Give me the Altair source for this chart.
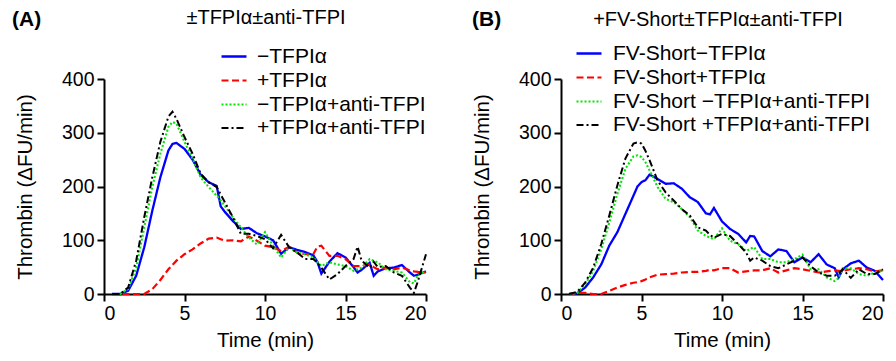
import altair as alt
import pandas as pd

FONT = "Liberation Sans"

# ---------------- Panel A data ----------------
A_TIME = [0.5, 1, 1.5, 2, 2.5, 3, 3.5, 4, 4.25, 4.5, 5, 5.5, 6, 6.5, 7, 7.25, 7.5, 8, 8.5, 9,
          9.5, 10, 10.5, 11, 11.5, 12, 12.5, 13, 13.25, 13.5, 14, 14.5, 15, 15.5, 15.75, 16,
          16.5, 16.75, 17, 17.5, 18, 18.5, 19, 19.25, 19.5, 20]
A_NO_TFPI = [0, 0, 6, 34, 87, 155, 217, 267, 279, 281, 270, 250, 222, 208, 201, 163, 153, 136,
             121, 123, 113, 107, 100, 75, 87, 82, 78, 72, 60, 38, 60, 76, 68, 50, 40, 45, 58, 34,
             42, 48, 49, 54, 40, 34, 36, 42]
A_TFPI = [0, 0, 0, 0, 0, 9, 26, 46, 54, 62, 74, 83, 94, 103, 105, 102, 99, 100, 98, 107, 99, 90,
          87, 80, 88, 77, 74, 74, 88, 90, 71, 71, 65, 52, 52, 52, 55, 50, 46, 49, 46, 49, 44, 42,
          41, 40]
A_NO_TFPI_ANTI = [0, 0, 9, 49, 124, 199, 261, 311, 320, 317, 283, 252, 217, 199, 183, 174, 164,
                  143, 124, 105, 92, 115, 90, 68, 87, 77, 74, 68, 60, 52, 59, 55, 52, 43, 46, 49,
                  65, 62, 59, 46, 43, 40, 22, 20, 35, 42]
A_TFPI_ANTI = [0, 0, 12, 62, 143, 217, 283, 330, 339, 326, 292, 261, 224, 208, 199, 185, 171, 143,
               112, 112, 108, 102, 85, 110, 87, 77, 65, 65, 58, 49, 27, 37, 52, 65, 88, 62, 49, 60,
               50, 52, 40, 34, 12, 2, 24, 74]
A_NAMES = ["\u2212TFPI\u03b1", "+TFPI\u03b1", "\u2212TFPI\u03b1+anti-TFPI", "+TFPI\u03b1+anti-TFPI"]
A_TITLE = "\u00b1TFPI\u03b1\u00b1anti-TFPI"
A_TAG = "(A)"

# ---------------- Panel B data ----------------
B_TIME = [0.5, 1, 1.5, 2, 2.5, 3, 3.5, 4, 4.5, 4.75, 5, 5.25, 5.5, 6, 6.5, 7, 7.5, 8, 8.5, 9,
          9.25, 9.5, 10, 10.5, 11, 11.5, 11.75, 12, 12.5, 13, 13.5, 14, 14.5, 15, 15.5, 16, 16.5,
          17, 17.25, 17.5, 18, 18.5, 19, 19.5, 20]
B_NO_TFPI = [0, 1, 12, 31, 55, 90, 115, 149, 183, 200, 208, 212, 222, 214, 205, 206, 196, 180,
             171, 150, 148, 160, 135, 121, 112, 96, 108, 107, 80, 70, 83, 80, 59, 68, 59, 74, 55,
             48, 31, 46, 57, 62, 49, 43, 26]
B_TFPI = [0, 2, 2, 0, 0, 6, 12, 17, 21, 22, 24, 27, 31, 36, 37, 38, 40, 41, 41, 43, 45, 44, 48,
          48, 40, 42, 43, 44, 44, 48, 40, 44, 48, 46, 43, 40, 42, 44, 43, 43, 46, 48, 46, 42, 44]
B_NO_TFPI_ANTI = [0, 2, 18, 43, 83, 133, 186, 233, 256, 258, 255, 245, 230, 199, 177, 171, 158,
                  143, 118, 108, 105, 102, 122, 99, 93, 80, 84, 87, 65, 65, 59, 59, 65, 73, 46, 46,
                  31, 24, 30, 48, 48, 37, 34, 40, 43]
B_TFPI_ANTI = [0, 4, 21, 49, 93, 146, 202, 252, 280, 282, 280, 266, 249, 211, 189, 174, 158, 146,
               124, 118, 110, 105, 112, 108, 93, 77, 62, 68, 62, 52, 48, 55, 62, 68, 52, 40, 34,
               34, 38, 46, 30, 46, 37, 37, 46]
B_NAMES = ["FV-Short\u2212TFPI\u03b1", "FV-Short+TFPI\u03b1", "FV-Short \u2212TFPI\u03b1+anti-TFPI",
           "FV-Short +TFPI\u03b1+anti-TFPI"]
B_TITLE = "+FV-Short\u00b1TFPI\u03b1\u00b1anti-TFPI"
B_TAG = "(B)"

COLORS = ["#0000ff", "#ff0000", "#00e600", "#000000"]
DASHES = [[1, 0], [7, 3.5], [2, 2], [7, 3, 2, 3]]
WIDTHS = [2.3, 2, 2, 2]

W, H = 322, 215


def panel(times, series, names, title, tag, leg_x, leg_y, lab_off, title_x, title_y, tag_x, tag_y):
    rows = []
    for name, vals in zip(names, series):
        for t, v in zip(times, vals):
            rows.append({"t": t, "v": v, "s": name})
    df = pd.DataFrame(rows)
    leg = alt.Legend(title=None, orient="none", legendX=leg_x, legendY=leg_y,
                     symbolType="stroke", symbolSize=625, symbolStrokeWidth=2,
                     labelFont=FONT, labelFontSize=21, labelColor="black", labelOffset=lab_off,
                     labelLimit=500, rowPadding=0, padding=0)
    lines = alt.Chart(df).mark_line(interpolate="linear").encode(
        x=alt.X("t:Q", scale=alt.Scale(domain=[0, 20], nice=False),
                axis=alt.Axis(values=[0, 5, 10, 15, 20], title="Time (min)", labelAngle=0,
                              labelPadding=3, titlePadding=8)),
        y=alt.Y("v:Q", scale=alt.Scale(domain=[0, 400], nice=False),
                axis=alt.Axis(values=[0, 100, 200, 300, 400], title="Thrombin (\u0394FU/min)",
                              labelPadding=3, titlePadding=26)),
        color=alt.Color("s:N", scale=alt.Scale(domain=names, range=COLORS), legend=leg),
        strokeDash=alt.StrokeDash("s:N", scale=alt.Scale(domain=names, range=DASHES), legend=leg),
        strokeWidth=alt.StrokeWidth("s:N", scale=alt.Scale(domain=names, range=WIDTHS), legend=None),
    )
    tdf = pd.DataFrame({"label": [title]})
    ttl = alt.Chart(tdf).mark_text(align="center", baseline="middle", font=FONT, fontSize=20,
                                   color="black").encode(
        text="label:N", x=alt.value(title_x), y=alt.value(title_y))
    gdf = pd.DataFrame({"label": [tag]})
    tg = alt.Chart(gdf).mark_text(align="left", baseline="middle", font=FONT, fontSize=21,
                                  fontWeight="bold", color="black").encode(
        text="label:N", x=alt.value(tag_x), y=alt.value(tag_y))
    return alt.layer(lines, ttl, tg).properties(width=W, height=H)


pa = panel(A_TIME, [A_NO_TFPI, A_TFPI, A_NO_TFPI_ANTI, A_TFPI_ANTI], A_NAMES, A_TITLE, A_TAG,
           116, -36.5, 9, 162, -61, -92, -59)
pb = panel(B_TIME, [B_NO_TFPI, B_TFPI, B_NO_TFPI_ANTI, B_TFPI_ANTI], B_NAMES, B_TITLE, B_TAG,
           14, -39.5, 10, 157, -59, -89, -59)

chart = alt.hconcat(pa, pb, spacing=135, bounds="flush").resolve_scale(
    color="independent", strokeDash="independent", strokeWidth="independent"
).properties(
    padding={"left": 12, "top": 8, "right": 2, "bottom": 2}
).configure_view(stroke=None).configure_axis(
    domainColor="black", domainWidth=2, tickColor="black", tickWidth=2, tickSize=7,
    labelFont=FONT, labelFontSize=19.5, labelColor="black", titleFont=FONT, titleFontSize=20.5,
    titleFontWeight="normal", titleColor="black", grid=False
)

chart.save("out.html", embed_options={"renderer": "svg", "actions": False})
